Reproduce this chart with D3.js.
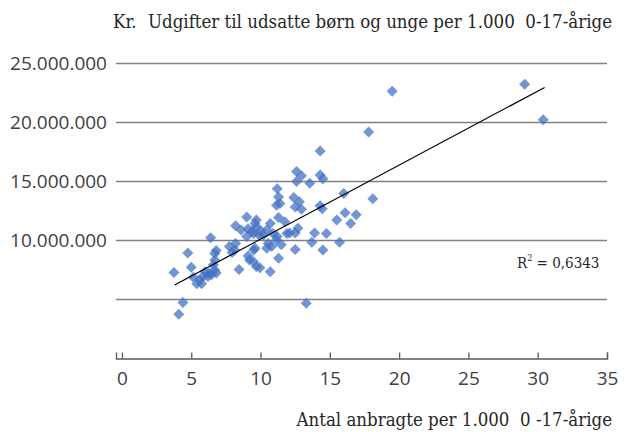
<!DOCTYPE html>
<html>
<head>
<meta charset="utf-8">
<script src="https://cdn.jsdelivr.net/npm/d3@7"></script>
<style>
  body { margin: 0; background: #fff; }
  svg { display: block; }
  .serif { font-family: "DejaVu Serif Condensed", "DejaVu Serif", serif; fill: #262626; }
  .tick text { font-family: "Open Sans", sans-serif; font-size: 19px; fill: #404040; }
</style>
</head>
<body>
<svg width="635" height="432"></svg>
<script>
// antal anbragte per 1.000 0-17-årige
var anbragte = [29.06, 30.4, 19.5, 17.8, 14.3, 18.1, 16.0, 16.1, 16.9, 15.5,
  16.5, 13.9, 14.75, 13.7, 15.7, 14.5, 13.3, 14.3, 14.45, 14.3,
  14.5, 13.55, 12.6, 12.95, 12.6, 12.4, 12.8, 12.5, 12.95, 11.2,
  11.3, 11.15, 11.4, 9.0, 9.7, 8.2, 8.6, 9.1, 9.35, 9.6,
  9.7, 10.0, 9.5, 9.0, 9.9, 10.2, 10.45, 10.7, 11.3, 11.75,
  11.9, 12.1, 12.5, 12.7, 10.9, 11.2, 11.15, 10.55, 10.45, 10.8,
  11.5, 12.5, 11.3, 10.7, 9.5, 9.6, 9.1, 9.2, 9.5, 9.7,
  9.95, 8.45, 8.2, 7.75, 8.15, 7.95, 6.4, 6.8, 6.7, 4.75,
  6.7, 6.6, 6.8, 6.45, 6.2, 6.0, 5.85, 5.0, 3.75, 5.15,
  5.6, 5.4, 5.75, 4.4, 4.1, 6.7, 6.3];
// udgifter i kr. per 1.000 0-17-årige
var udgifter = [23.2, 20.2, 22.6, 19.15, 17.55, 13.5, 13.95, 12.3, 12.15, 11.7,
  11.4, 10.6, 10.55, 9.8, 9.8, 9.15, 4.65, 12.9, 12.65, 15.5,
  15.2, 14.8, 15.8, 15.45, 14.95, 13.6, 13.25, 12.8, 12.6, 14.35,
  13.65, 12.95, 13.1, 11.95, 11.7, 11.2, 10.85, 10.95, 10.7, 11.4,
  11.1, 10.8, 10.55, 10.3, 10.4, 10.4, 10.85, 11.4, 11.9, 11.55,
  10.55, 10.6, 10.6, 11.0, 10.55, 10.3, 10.0, 9.7, 9.3, 9.45,
  9.6, 9.2, 8.45, 7.3, 9.15, 9.3, 8.65, 8.3, 8.15, 7.75,
  7.65, 7.5, 9.7, 9.45, 9.15, 8.95, 10.2, 9.1, 8.85, 8.9,
  8.3, 7.9, 7.2, 7.05, 6.9, 7.3, 6.9, 7.7, 7.25, 6.85,
  6.6, 6.3, 6.3, 4.7, 3.7, 7.45, 7.2].map(function(d) { return d * 1e6; });

var xTicks = [0, 5, 10, 15, 20, 25, 30, 35];
var yGrid = [5e6, 10e6, 15e6, 20e6, 25e6];
var yLabels = [10e6, 15e6, 20e6, 25e6];
// lineær tendenslinje
var trendX = [3.8, 30.5];
var trendY = [6.18e6, 22.93e6];
var rSquared = "0,6343";

var da = d3.formatLocale({decimal: ",", thousands: ".", grouping: [3], currency: ["", " kr."]});
var fmt = da.format(",d");

var svg = d3.select("svg");

var x = d3.scaleLinear().domain([-0.43, 35]).range([116, 607]);
var y = d3.scaleLinear().domain([0, 25e6]).range([358, 63]);

// gitterlinjer
svg.append("g")
  .selectAll("line")
  .data(yGrid)
  .join("line")
    .attr("x1", x.range()[0])
    .attr("x2", x.range()[1])
    .attr("y1", function(d) { return y(d) + 0.5; })
    .attr("y2", function(d) { return y(d) + 0.5; })
    .attr("stroke", "#808080")
    .attr("stroke-width", 1.3);

// y-etiketter
svg.append("g")
  .attr("transform", "translate(" + x.range()[0] + ",0)")
  .call(d3.axisLeft(y).tickValues(yLabels).tickSize(0).tickPadding(9).tickFormat(fmt))
  .call(function(g) { g.select(".domain").remove(); });

// x-akse
var xAxis = svg.append("g")
  .attr("transform", "translate(0," + (y(0) + 0.5) + ")")
  .call(d3.axisBottom(x).tickValues(xTicks).tickSize(-6).tickSizeOuter(-6).tickPadding(13));
xAxis.select(".domain").attr("stroke", "#595959").attr("stroke-width", 1.3);
xAxis.selectAll(".tick line").attr("stroke", "#595959").attr("stroke-width", 1.3);

// punkter
var diamond = "M0,-5.5L5.5,0L0,5.5L-5.5,0Z";
svg.append("g")
  .selectAll("path")
  .data(anbragte)
  .join("path")
    .attr("d", diamond)
    .attr("transform", function(d, i) { return "translate(" + x(d) + "," + y(udgifter[i]) + ")"; })
    .attr("fill", "#4472c4")
    .attr("fill-opacity", 0.75);

// tendenslinje
svg.append("line")
  .attr("x1", x(trendX[0])).attr("y1", y(trendY[0]))
  .attr("x2", x(trendX[1])).attr("y2", y(trendY[1]))
  .attr("stroke", "#000")
  .attr("stroke-width", 1.2);

// tekster
svg.append("text")
  .attr("class", "serif")
  .attr("x", 113).attr("y", 28)
  .attr("font-size", 18.5)
  .text("Kr.");

svg.append("text")
  .attr("class", "serif")
  .attr("x", 612).attr("y", 28)
  .attr("text-anchor", "end")
  .attr("font-size", 18.5)
  .style("white-space", "pre")
  .text("Udgifter til udsatte børn og unge per 1.000  0-17-årige");

svg.append("text")
  .attr("class", "serif")
  .attr("x", 612).attr("y", 426)
  .attr("text-anchor", "end")
  .attr("font-size", 18.5)
  .style("white-space", "pre")
  .text("Antal anbragte per 1.000  0 -17-årige");

var r2 = svg.append("text")
  .attr("class", "serif")
  .attr("x", 517).attr("y", 268)
  .attr("font-size", 15);
r2.append("tspan").text("R");
r2.append("tspan").attr("font-size", 9).attr("dy", -7).text("2");
r2.append("tspan").attr("dy", 7).style("white-space", "pre").text(" = " + rSquared);
</script>
</body>
</html>
